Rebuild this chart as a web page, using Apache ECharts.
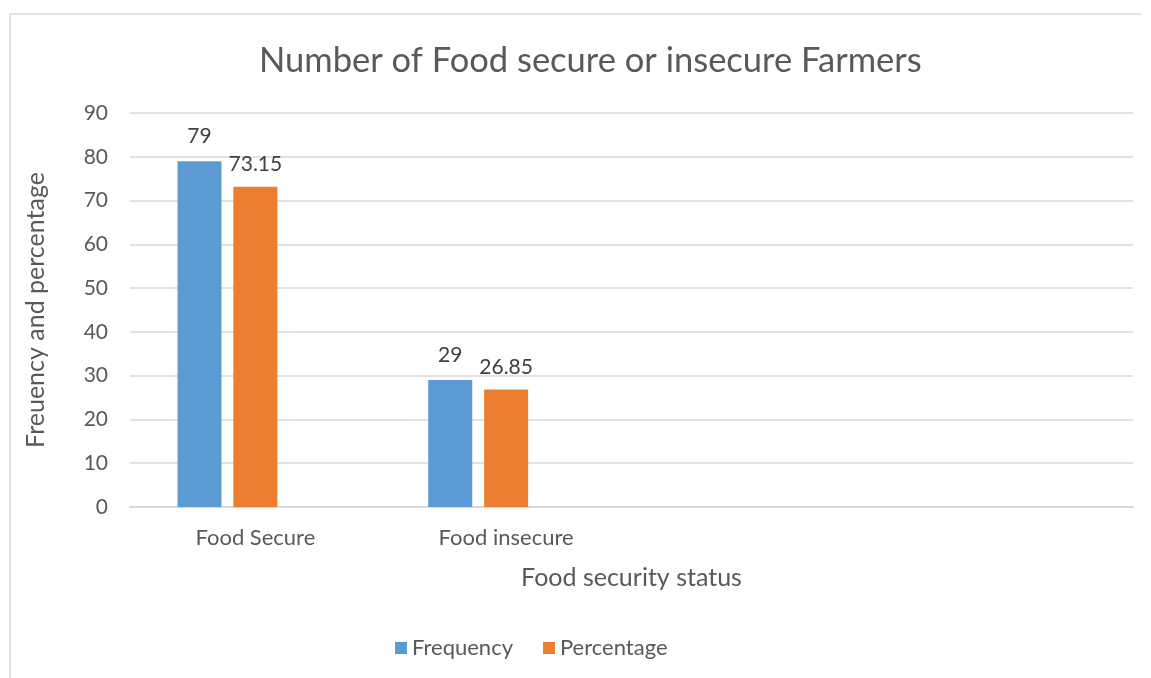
<!DOCTYPE html>
<html>
<head>
<meta charset="utf-8">
<script src="https://cdn.jsdelivr.net/npm/echarts@6/dist/echarts.min.js"></script>
<style>
  html, body { margin: 0; padding: 0; background: #fff; }
  #chart { width: 1151px; height: 678px; }
</style>
</head>
<body>
<div id="chart"></div>
<script>
// categories (Excel kept two spare empty slots on the axis)
var categories = ['Food Secure', 'Food insecure', '', ''];
var frequency = [79, 29];
var percentage = [73.15, 26.85];
var yTicks = [0, 10, 20, 30, 40, 50, 60, 70, 80, 90];

var font = 'Lato, "Open Sans", sans-serif';
var chart = echarts.init(document.getElementById('chart'));

var option = {
    backgroundColor: '#fff',
    animation: false,
    title: {
        text: 'Number of Food secure or insecure Farmers',
        left: 254,
        top: 38,
        textStyle: { fontFamily: font, fontSize: 34.5, fontWeight: 'normal', color: '#595959' }
    },
    legend: {
        data: ['Frequency', 'Percentage'],
        left: 390,
        top: 632,
        itemWidth: 12,
        itemHeight: 12,
        itemGap: 30,
        icon: 'rect',
        textStyle: { fontFamily: font, fontSize: 22, color: '#595959' }
    },
    grid: { left: 130, right: 18, top: 113, bottom: 171 },
    xAxis: {
        type: 'category',
        data: categories,
        name: 'Food security status',
        nameLocation: 'middle',
        nameGap: 58,
        nameTextStyle: { fontFamily: font, fontSize: 25, color: '#595959' },
        axisLine: { lineStyle: { color: '#d9d9d9', width: 2 } },
        axisTick: { show: false },
        axisLabel: { margin: 20, fontFamily: font, fontSize: 22, color: '#595959' }
    },
    yAxis: {
        type: 'value',
        min: yTicks[0],
        max: yTicks[yTicks.length - 1],
        interval: 10,
        name: 'Freuency and percentage',
        nameLocation: 'middle',
        nameGap: 82,
        nameTextStyle: { fontFamily: font, fontSize: 25, color: '#595959' },
        axisLine: { show: false },
        axisTick: { show: false },
        axisLabel: { margin: 22, fontFamily: font, fontSize: 21, color: '#595959' },
        splitLine: { lineStyle: { color: '#d9d9d9', width: 1.5 } }
    },
    series: [
        {
            name: 'Frequency',
            type: 'bar',
            data: frequency,
            barWidth: 44,
            barGap: '27%',
            itemStyle: { color: '#5B9BD5' },
            label: { show: true, position: 'top', distance: 14, fontFamily: font, fontSize: 21, color: '#404040' }
        },
        {
            name: 'Percentage',
            type: 'bar',
            data: percentage,
            barWidth: 44,
            barGap: '27%',
            itemStyle: { color: '#ED7D31' },
            label: { show: true, position: 'top', distance: 12, fontFamily: font, fontSize: 21, color: '#404040' }
        },
        {
            // empty third slot, as in the original workbook
            name: 'spare',
            type: 'bar',
            data: [],
            barWidth: 44,
            barGap: '27%'
        }
    ],
    graphic: [
        { type: 'line', shape: { x1: 10, y1: 14, x2: 1141, y2: 14 }, style: { stroke: '#d9d9d9', lineWidth: 1.5 } },
        { type: 'line', shape: { x1: 10, y1: 14, x2: 10, y2: 678 }, style: { stroke: '#d9d9d9', lineWidth: 1.5 } }
    ]
};

chart.setOption(option);
</script>
</body>
</html>
